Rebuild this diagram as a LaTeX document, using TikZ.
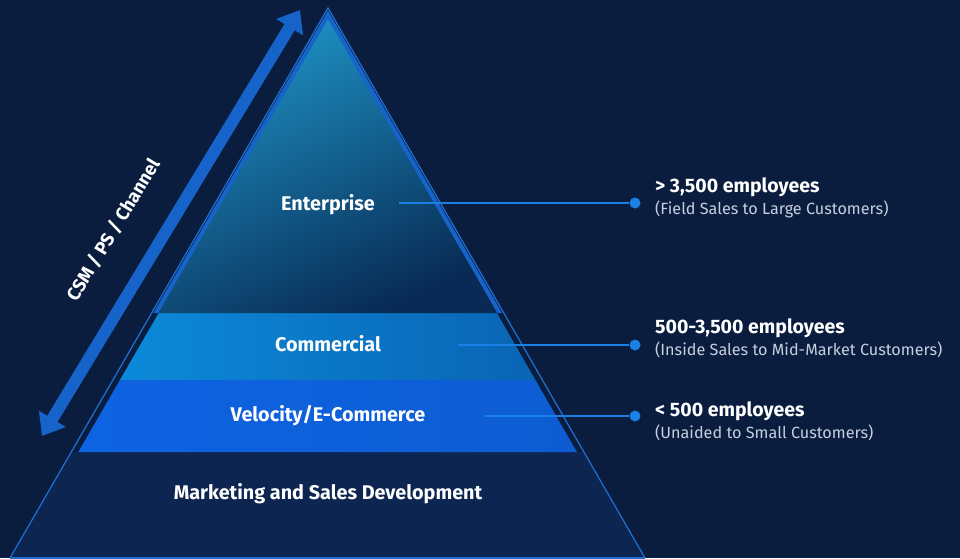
\documentclass[tikz,border=0pt]{standalone}
\usepackage{fontspec}
\setmainfont{Fira Sans}
\usetikzlibrary{arrows.meta,positioning,calc}

\definecolor{bgnavy}{HTML}{0A1D3F}
\definecolor{basenavy}{HTML}{0C2651}
\definecolor{edgeblue}{HTML}{1F70D4}
\definecolor{rimblue}{HTML}{1664CA}
\definecolor{tealtop}{HTML}{1E96C9}
\definecolor{tealbot}{HTML}{082A54}
\definecolor{comlight}{HTML}{0B8AD9}
\definecolor{comdark}{HTML}{0A64B4}
\definecolor{velblue}{HTML}{0E63E2}
\definecolor{dotblue}{HTML}{1B80E6}
\definecolor{subgray}{HTML}{C6CFDF}

\tikzset{
  tier/.style={text=white,font=\bfseries\fontsize{19.8}{22}\selectfont},
  count/.style={text=white,font=\bfseries\fontsize{19.5}{22}\selectfont,anchor=base west,inner sep=0pt},
  detail/.style={text=subgray,font=\fontsize{16.2}{19}\selectfont,anchor=north west,inner sep=0pt},
  leader/.style={dotblue,line width=1.8pt},
  knob/.style={circle,fill=dotblue,inner sep=0pt,minimum size=11pt},
  bigarrow/.style={rimblue,line width=12pt,
    {Triangle[length=20pt,width=30pt]}-{Triangle[length=20pt,width=30pt]}}
}

\begin{document}
\begin{tikzpicture}[x=1pt,y=-1pt]

\fill[bgnavy] (0,0) rectangle (960,558);
\useasboundingbox (0,0) rectangle (960,558);

\coordinate (A) at (328,8);
\coordinate (L) at (10,558);
\coordinate (R) at (645,558);

% bottom tier
\fill[basenavy] (71.3,452) -- (L) -- (R) -- (583.9,452) -- cycle;

% middle tiers
\shade[left color=velblue,right color=velblue!93!black] (119.9,380) -- (78.3,452) -- (576.9,452) -- (535.4,380) -- cycle;
\shade[left color=comlight,right color=comdark] (158.7,313) -- (119.9,380) -- (535.4,380) -- (496.8,313) -- cycle;

% top tier with rim
\begin{scope}
\clip (328,11) -- (153.5,313) -- (502,313) -- cycle;
\shade[top color=tealtop,bottom color=tealbot,shading angle=25] (153.5,11) rectangle (502,313);
\draw[rimblue,line width=8pt] (153.5,313) -- (328,11) -- (502,313);
\end{scope}

% outline
\draw[edgeblue,line width=1.2pt,line join=miter] (L) -- (A) -- (R);
\draw[edgeblue,line width=1.2pt] (L) -- (R);

% side arrow
\coordinate (dn) at (42,436);
\coordinate (up) at (300,10);
\draw[bigarrow] (dn) -- (up);
\node[text=white,font=\bfseries\fontsize{18.5}{21}\selectfont,rotate=58.8] (chan) at (113,230) {CSM / PS / Channel};

% tier labels
\node[tier] (ent) at (328,205) {Enterprise};
\node[tier] (com) at (328,344) {Commercial};
\node[tier] (vel) at (328,416) {Velocity/E-Commerce};
\node[tier] (mkt) at (328,494) {Marketing and Sales Development};

\coordinate (e1) at (399,203);
\coordinate (e2) at (458,345);
\coordinate (e3) at (485,416);
\node[knob] (k1) at (635,203) {};
\node[knob] (k2) at (635,345) {};
\node[knob] (k3) at (635,416) {};
\draw[leader] (e1) -- (k1);
\draw[leader] (e2) -- (k2);
\draw[leader] (e3) -- (k3);

% right side
\node[count] (c1) at (655,192) {> 3,500 employees};
\node[detail,below=4pt of c1.south west,anchor=north west] (d1) {(Field Sales to Large Customers)};
\node[count] (c2) at (655,333) {500-3,500 employees};
\node[detail,below=4pt of c2.south west,anchor=north west] (d2) {(Inside Sales to Mid-Market Customers)};
\node[count] (c3) at (655,416) {< 500 employees};
\node[detail,below=4pt of c3.south west,anchor=north west] (d3) {(Unaided to Small Customers)};

\end{tikzpicture}
\end{document}
